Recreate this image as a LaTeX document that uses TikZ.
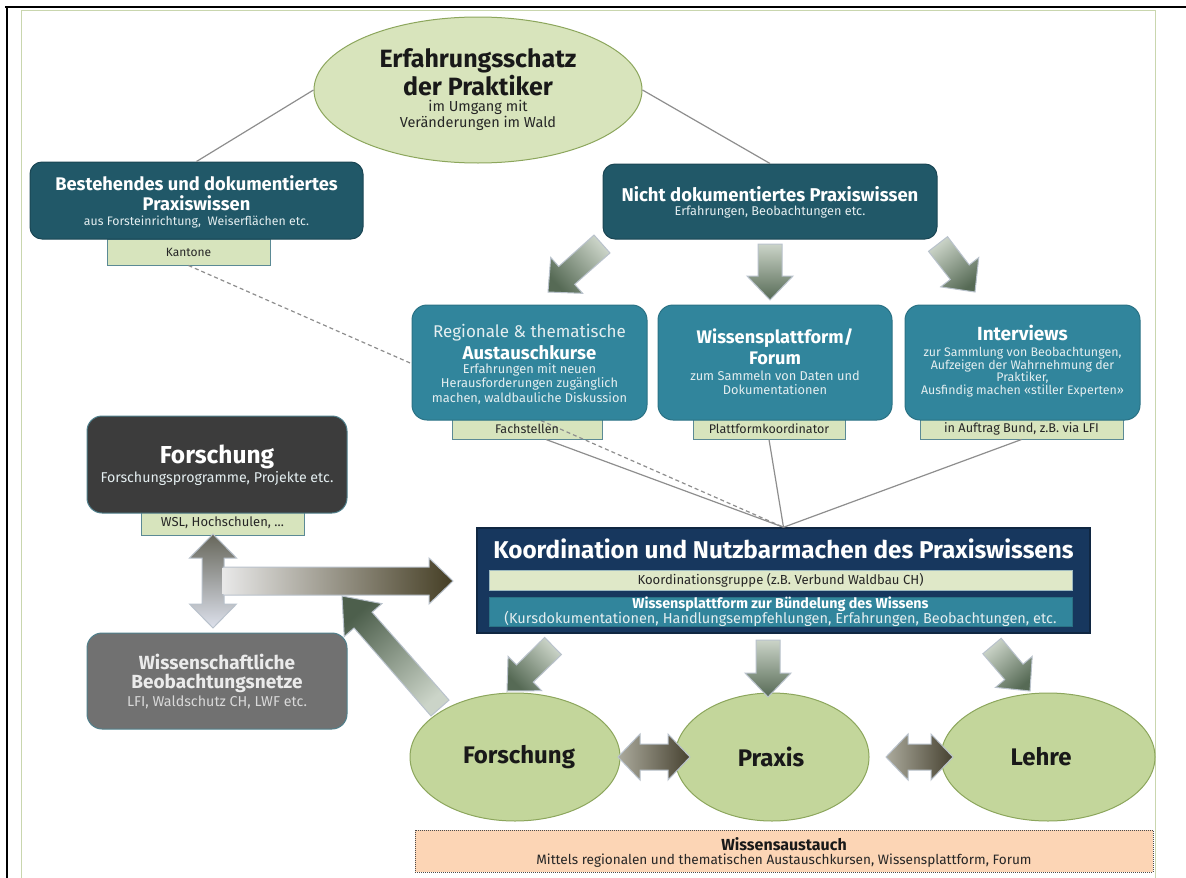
\documentclass[tikz,border=0pt]{standalone}
\usepackage{fontspec}
\setmainfont{Fira Sans}
\usetikzlibrary{calc,shapes.geometric}
\definecolor{cDT}{HTML}{215868}
\definecolor{cDTb}{HTML}{1A4654}
\definecolor{cMT}{HTML}{31859C}
\definecolor{cMTb}{HTML}{2A7285}
\definecolor{cTag}{HTML}{D7E4BD}
\definecolor{cBar}{HTML}{DFE8C8}
\definecolor{cTagB}{HTML}{5B8A95}
\definecolor{cEllTop}{HTML}{D8E4BC}
\definecolor{cEll}{HTML}{C3D69B}
\definecolor{cEllB}{HTML}{8CA65C}
\definecolor{cFo}{HTML}{3C3C3C}
\definecolor{cWb}{HTML}{717171}
\definecolor{cGb}{HTML}{50808C}
\definecolor{cNavy}{HTML}{17375E}
\definecolor{cPeach}{HTML}{FCD5B5}
\definecolor{cLine}{HTML}{8E8E8E}
\definecolor{cArrB}{HTML}{B9C2CC}
\definecolor{cTipG}{HTML}{566A55}
\definecolor{cTailG}{HTML}{CBD4C8}
\definecolor{cFrame}{HTML}{C9D6AE}
\definecolor{cSmall}{HTML}{E4EEF0}
\definecolor{cVtop}{HTML}{66665A}
\definecolor{cVbot}{HTML}{DDE1EC}
\definecolor{cHl}{HTML}{E8E8E8}
\definecolor{cHr}{HTML}{453E24}
\definecolor{cDl}{HTML}{ABAA9C}
\definecolor{cDr}{HTML}{474231}
\newcommand\fsz[1]{\fontsize{#1pt}{#1pt}\selectfont}
% block arrow: #1 style, #2 tail, #3 tip, #4 shaft half, #5 head half, #6 head length, #7 name of head base
\newcommand\blockarr[7]{%
  \coordinate (#7) at ($(#3)!#6!(#2)$);
  \path[#1] ($(#2)!#4!90:(#3)$) -- ($(#7)!#4!-90:(#2)$) -- ($(#7)!#5!-90:(#2)$) -- (#3)
    -- ($(#7)!#5!90:(#2)$) -- ($(#7)!#4!90:(#2)$) -- ($(#2)!#4!-90:(#3)$) -- cycle;}
% double arrow: #1 style, #2 end A, #3 end B, #4 shaft half, #5 head half, #6 head length
\newcommand\dblarr[6]{%
  \coordinate (#2h) at ($(#2)!#6!(#3)$);
  \coordinate (#3h) at ($(#3)!#6!(#2)$);
  \path[#1] (#2) -- ($(#2h)!#5!90:(#3)$) -- ($(#2h)!#4!90:(#3)$) -- ($(#3h)!#4!-90:(#2)$)
    -- ($(#3h)!#5!-90:(#2)$) -- (#3) -- ($(#3h)!#5!90:(#2)$) -- ($(#3h)!#4!90:(#2)$)
    -- ($(#2h)!#4!-90:(#3)$) -- ($(#2h)!#5!-90:(#3)$) -- cycle;}
\tikzset{
  lbl/.style={inner sep=0pt, outer sep=0pt, anchor=center, align=center},
  darkbox/.style={fill=cDT, draw=cDTb, line width=1pt, rounded corners=12pt, inner sep=0pt},
  midbox/.style={fill=cMT, draw=cMTb, line width=1pt, rounded corners=15pt, inner sep=0pt},
  tagbox/.style={fill=cTag, draw=cTagB, line width=1pt, inner sep=0pt},
  greybox/.style={draw=cGb, line width=1pt, rounded corners=15pt, inner sep=0pt},
  ellnode/.style={ellipse, fill=cEll, draw=cEllB, line width=1pt, inner sep=0pt},
  conn/.style={draw=cLine, line width=1.2pt},
  dconn/.style={draw=cLine, line width=1.2pt, dash pattern=on 4pt off 3pt},
  garrow/.style={draw=cArrB, line width=1pt, top color=cTipG, bottom color=cTailG, shading angle=#1},
  darrow/.style={draw=cArrB, line width=1pt, left color=cDl, right color=cDr},
}
\begin{document}
\begin{tikzpicture}[x=1pt,y=-1pt]
\useasboundingbox (0,0) rectangle (1186,878);
\fill[white] (0,0) rectangle (1186,878);
% frames
\draw[cFrame, line width=1pt] (21,878) -- (21,10) -- (1155,10) -- (1155,878);
\draw[black, line width=2pt] (5,7) -- (1186,7);
\draw[black, line width=1.5pt] (7,7) -- (7,878);

% nodes (shapes)
\node[ellnode, fill=cEllTop, minimum width=328pt, minimum height=146pt] (top) at (478,90) {};
\node[tagbox, minimum width=163pt, minimum height=26pt] (kant) at (188.5,252) {};
\node[darkbox, minimum width=333pt, minimum height=77pt] (best) at (196.5,200.5) {};
\node[darkbox, minimum width=334pt, minimum height=75pt] (nicht) at (770,201.5) {};
\node[tagbox, minimum width=150pt, minimum height=21pt] (fach) at (527,428.5) {};
\node[tagbox, minimum width=152pt, minimum height=21pt] (platt) at (769,428.5) {};
\node[tagbox, minimum width=203pt, minimum height=21pt] (auftr) at (1021.5,428.5) {};
\node[tagbox, minimum width=163pt, minimum height=24pt] (wsl) at (222.5,523) {};
\node[fill=cNavy, draw=cNavy!70!black, line width=1.5pt, minimum width=613pt, minimum height=105pt, inner sep=0pt] (koord) at (783.5,580.5) {};

% connectors (behind boxes)
\coordinate (fachout) at ($(fach.south)+(19,0)$);
\draw[dconn] (kant.south) -- (koord.north);
\draw[conn] (top.west) -- (best.north);
\draw[conn] (top.east) -- (nicht.north);
\draw[conn] (fachout) -- (koord.north);
\draw[conn] (platt.south) -- (koord.north);
\draw[conn] (auftr.south) -- (koord.north);

\node[midbox, minimum width=235pt, minimum height=115pt] (reg) at (529.5,362.5) {};
\node[midbox, minimum width=234pt, minimum height=115pt] (wiss) at (775,362.5) {};
\node[midbox, minimum width=235pt, minimum height=115pt] (intv) at (1022.5,362.5) {};
\node[greybox, fill=cFo, minimum width=260pt, minimum height=97pt] (forsch) at (217,464.5) {};
\node[greybox, fill=cWb, minimum width=260pt, minimum height=96pt] (wbn) at (217,681) {};
\node[fill=cBar, draw=cTagB!60, line width=0.8pt, minimum width=583pt, minimum height=20pt, inner sep=0pt] (bar1) at (780.5,580) {};
\node[fill=cMT, draw=cMTb, line width=0.8pt, minimum width=583pt, minimum height=29pt, inner sep=0pt] (bar2) at (780.5,611.5) {};
\node[ellnode, minimum width=210pt, minimum height=128pt] (fe) at (515,757) {};
\node[ellnode, minimum width=194pt, minimum height=128pt] (pe) at (772,757) {};
\node[ellnode, minimum width=214pt, minimum height=128pt] (le) at (1048,757) {};
\node[fill=cPeach, draw=black!70, line width=0.8pt, dash pattern=on 1pt off 1pt, minimum width=738pt, minimum height=42pt, inner sep=0pt] (wa) at (784,851) {};

% block arrows from "Nicht dokumentiertes"
\coordinate (n1a) at (602,244); \coordinate (n1b) at (548,292);
\coordinate (n2a) at (770,244); \coordinate (n2b) at (770,300);
\coordinate (n3a) at (938,244); \coordinate (n3b) at (975,292);
\blockarr{garrow=132}{n1a}{n1b}{12pt}{24pt}{25pt}{n1h}
\blockarr{garrow=180}{n2a}{n2b}{12pt}{23pt}{24pt}{n2h}
\blockarr{garrow=217}{n3a}{n3b}{12pt}{24pt}{25pt}{n3h}
% block arrows from Koordination
\coordinate (k1a) at (553,646); \coordinate (k1b) at (507,691);
\coordinate (k2a) at (768,640); \coordinate (k2b) at (768,697);
\coordinate (k3a) at (992,646); \coordinate (k3b) at (1030,691);
\blockarr{garrow=135}{k1a}{k1b}{12pt}{24pt}{25pt}{k1h}
\blockarr{garrow=180}{k2a}{k2b}{12pt}{23pt}{24pt}{k2h}
\blockarr{garrow=221}{k3a}{k3b}{12pt}{24pt}{25pt}{k3h}
% big T arrow
\coordinate (tv1) at (213,534); \coordinate (tv2) at (213,628);
\dblarr{draw=cArrB, line width=1pt, top color=cVtop, bottom color=cVbot}{tv1}{tv2}{11pt}{23.5pt}{24pt}
\coordinate (th1) at (223,581); \coordinate (th2) at (453,581);
\blockarr{draw=cArrB, line width=1pt, left color=cHl, right color=cHr}{th1}{th2}{14pt}{23pt}{24pt}{thh}
\fill[cHl] (222.2,568) rectangle (225,594);
% diagonal arrow from Forschung ellipse
\coordinate (da1) at (440,708); \coordinate (da2) at (342,596);
\blockarr{draw=cArrB, line width=1pt, top color=cTipG!90!black, bottom color=cTailG, shading angle=41}{da1}{da2}{12pt}{25pt}{32pt}{dah}
% double arrows between ellipses
\coordinate (d1a) at (618,757); \coordinate (d1b) at (690,757);
\coordinate (d2a) at (886,757); \coordinate (d2b) at (953,757);
\dblarr{darrow}{d1a}{d1b}{13pt}{23pt}{22pt}
\dblarr{darrow}{d2a}{d2b}{13pt}{23pt}{22pt}

% texts
\node[lbl, text=black!90, font={\bfseries\fsz{25}}] (t1) at (478,61) {Erfahrungsschatz};
\node[lbl, text=black!90, font={\bfseries\fsz{25}}] (t2) at (478,86) {der Praktiker};
\node[lbl, text=black!85, font={\fsz{14.5}}] (t3) at (478,107) {im Umgang mit};
\node[lbl, text=black!85, font={\fsz{14.5}}] (t4) at (478,123) {Veränderungen im Wald};

\node[lbl, text=white, font={\bfseries\fsz{18.3}}] (t5) at (196.5,183) {Bestehendes und dokumentiertes};
\node[lbl, text=white, font={\bfseries\fsz{18.3}}] (t6) at (196.5,203) {Praxiswissen};
\node[lbl, text=cSmall, font={\fsz{12.3}}] (t7) at (196.5,222) {aus Forsteinrichtung,\ \ Weiserflächen etc.};
\node[lbl, text=black!85, font={\fsz{12}}] (t8) at (188.5,252) {Kantone};

\node[lbl, text=white, font={\bfseries\fsz{18.5}}] (t9) at (770,194) {Nicht dokumentiertes Praxiswissen};
\node[lbl, text=cSmall, font={\fsz{12.7}}] (t10) at (770,212) {Erfahrungen, Beobachtungen etc.};

\node[lbl, text=cSmall, font={\fsz{17}}] (t11) at (529.5,333) {Regionale \& thematische};
\node[lbl, text=white, font={\bfseries\fsz{18.5}}] (t12) at (529.5,353) {Austauschkurse};
\node[lbl, text=cSmall, font={\fsz{12.8}}] (t13) at (529.5,369.5) {Erfahrungen mit neuen};
\node[lbl, text=cSmall, font={\fsz{12.8}}] (t14) at (529.5,384) {Herausforderungen zugänglich};
\node[lbl, text=cSmall, font={\fsz{12.8}}] (t15) at (529.5,398.5) {machen, waldbauliche Diskussion};
\node[lbl, text=black!85, font={\fsz{12.5}}] (t16) at (527,429) {Fachstellen};

\node[lbl, text=white, font={\bfseries\fsz{18.2}}] (t17) at (775,338) {Wissensplattform/};
\node[lbl, text=white, font={\bfseries\fsz{18.2}}] (t18) at (775,358) {Forum};
\node[lbl, text=cSmall, font={\fsz{12.8}}] (t19) at (775,376) {zum Sammeln von Daten und};
\node[lbl, text=cSmall, font={\fsz{12.8}}] (t20) at (775,390) {Dokumentationen};
\node[lbl, text=black!85, font={\fsz{12.5}}] (t21) at (769,429) {Plattformkoordinator};

\node[lbl, text=white, font={\bfseries\fsz{19}}] (t22) at (1022.5,333) {Interviews};
\node[lbl, text=cSmall, font={\fsz{12.4}}] (t23) at (1022.5,353) {zur Sammlung von Beobachtungen,};
\node[lbl, text=cSmall, font={\fsz{12.4}}] (t24) at (1022.5,365.5) {Aufzeigen der Wahrnehmung der};
\node[lbl, text=cSmall, font={\fsz{12.4}}] (t25) at (1022.5,378) {Praktiker,};
\node[lbl, text=cSmall, font={\fsz{12.4}}] (t26) at (1022.5,390.5) {Ausfindig machen «stiller Experten»};
\node[lbl, text=black!85, font={\fsz{12.7}}] (t27) at (1021.5,429) {in Auftrag Bund, z.B. via LFI};

\node[lbl, text=white, font={\bfseries\fsz{24.5}}] (t28) at (217,457) {Forschung};
\node[lbl, text=cSmall, font={\fsz{14.2}}] (t29) at (217,478) {Forschungsprogramme, Projekte etc.};
\node[lbl, text=black!85, font={\fsz{13}}] (t30) at (222.5,523) {WSL, Hochschulen, …};

\node[lbl, text=white!92!black, font={\bfseries\fsz{19}}] (t31) at (217,662) {Wissenschaftliche};
\node[lbl, text=white!92!black, font={\bfseries\fsz{19}}] (t32) at (217,683) {Beobachtungsnetze};
\node[lbl, text=white!85!black, font={\fsz{14.3}}] (t33) at (217,702) {LFI, Waldschutz CH, LWF etc.};

\node[lbl, text=white, font={\bfseries\fsz{24.3}}] (t34) at (783.5,549) {Koordination und Nutzbarmachen des Praxiswissens};
\node[lbl, text=black!85, font={\fsz{13.1}}] (t35) at (780.5,580) {Koordinationsgruppe (z.B. Verbund Waldbau CH)};
\node[lbl, text=white, font={\bfseries\fsz{14.3}}] (t36) at (780.5,604) {Wissensplattform zur Bündelung des Wissens};
\node[lbl, text=cSmall, font={\fsz{14.5}}] (t37) at (780.5,619) {(Kursdokumentationen, Handlungsempfehlungen, Erfahrungen, Beobachtungen, etc.};

\node[lbl, text=black!90, font={\bfseries\fsz{24}}] (t38) at (519,757) {Forschung};
\node[lbl, text=black!90, font={\bfseries\fsz{24}}] (t39) at (771,757) {Praxis};
\node[lbl, text=black!90, font={\bfseries\fsz{24}}] (t40) at (1041,757) {Lehre};

\node[lbl, text=black!90, font={\bfseries\fsz{16}}] (t41) at (784,844) {Wissensaustauch};
\node[lbl, text=black!85, font={\fsz{13.6}}] (t42) at (784,861) {Mittels regionalen und thematischen Austauschkursen, Wissensplattform, Forum};
\end{tikzpicture}
\end{document}
